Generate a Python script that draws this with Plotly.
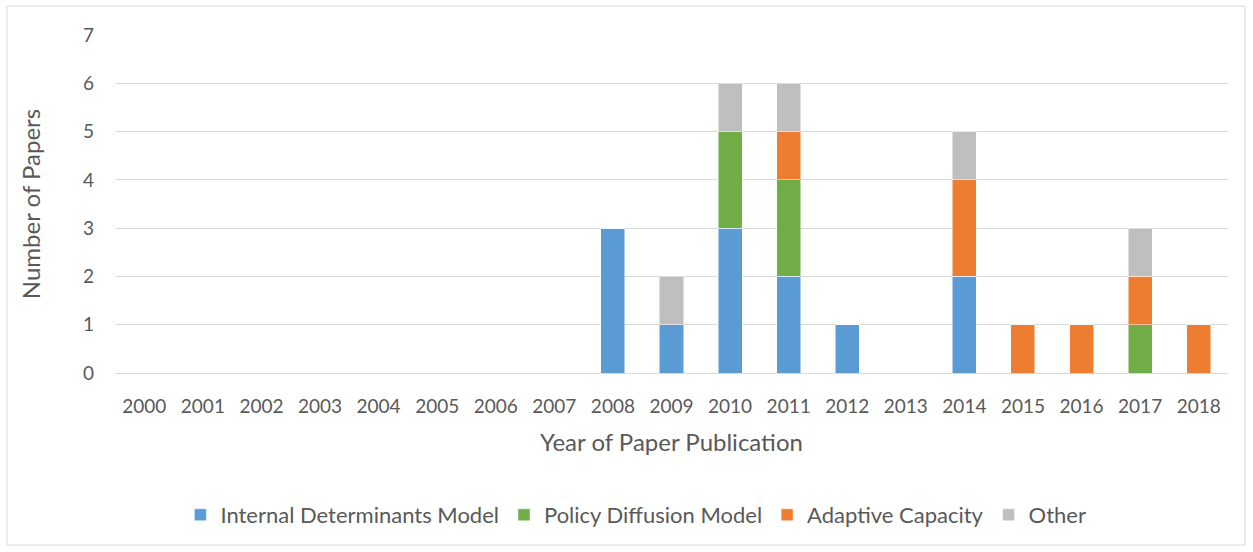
import plotly.graph_objects as go

years = [str(y) for y in range(2000, 2019)]
internal = [0, 0, 0, 0, 0, 0, 0, 0, 3, 1, 3, 2, 1, 0, 2, 0, 0, 0, 0]
diffusion = [0, 0, 0, 0, 0, 0, 0, 0, 0, 0, 2, 2, 0, 0, 0, 0, 0, 1, 0]
adaptive = [0, 0, 0, 0, 0, 0, 0, 0, 0, 0, 0, 1, 0, 0, 2, 1, 1, 1, 1]
other = [0, 0, 0, 0, 0, 0, 0, 0, 0, 1, 1, 1, 0, 0, 1, 0, 0, 1, 0]

series = [
    ("Internal Determinants Model", internal, "#5B9BD5"),
    ("Policy Diffusion Model", diffusion, "#70AD47"),
    ("Adaptive Capacity", adaptive, "#ED7D31"),
    ("Other", other, "#BFBFBF"),
]

fig = go.Figure()
for name, vals, col in series:
    fig.add_trace(go.Bar(x=years, y=vals, name=name, marker_color=col,
                         marker_line_color="rgba(255,255,255,0.5)", marker_line_width=1))

font = "Lato, 'Open Sans', sans-serif"
fig.update_layout(
    barmode="stack",
    bargap=0.59,
    width=1253, height=552,
    margin=dict(l=115, r=25, t=35, b=179),
    paper_bgcolor="white", plot_bgcolor="white",
    font=dict(family=font, color="#595959", size=19),
    xaxis=dict(type="category", title=dict(text="Year of Paper Publication", font=dict(size=24), standoff=18),
               tickfont=dict(size=19), showgrid=False, showline=True, linecolor="#D9D9D9",
               ticks="", ticklabelstandoff=16),
    yaxis=dict(range=[0, 7], dtick=1, showgrid=True, gridcolor="#D9D9D9", gridwidth=1,
               zeroline=False, title=dict(text="Number of Papers", font=dict(size=24), standoff=35),
               tickfont=dict(size=19), ticklabelstandoff=20),
    legend=dict(orientation="h", x=0.468, xanchor="center", y=-0.42, yanchor="middle",
                font=dict(size=22), itemwidth=30, traceorder="normal"),
    shapes=[dict(type="rect", xref="paper", yref="paper", x0=-0.097, x1=1.0153, y0=-0.509, y1=1.0858,
                 line=dict(color="#D9D9D9", width=1), fillcolor="rgba(0,0,0,0)", layer="below")],
)
fig.write_html("out.html", config={"displayModeBar": False},
               post_script="document.body.style.margin='0';")
